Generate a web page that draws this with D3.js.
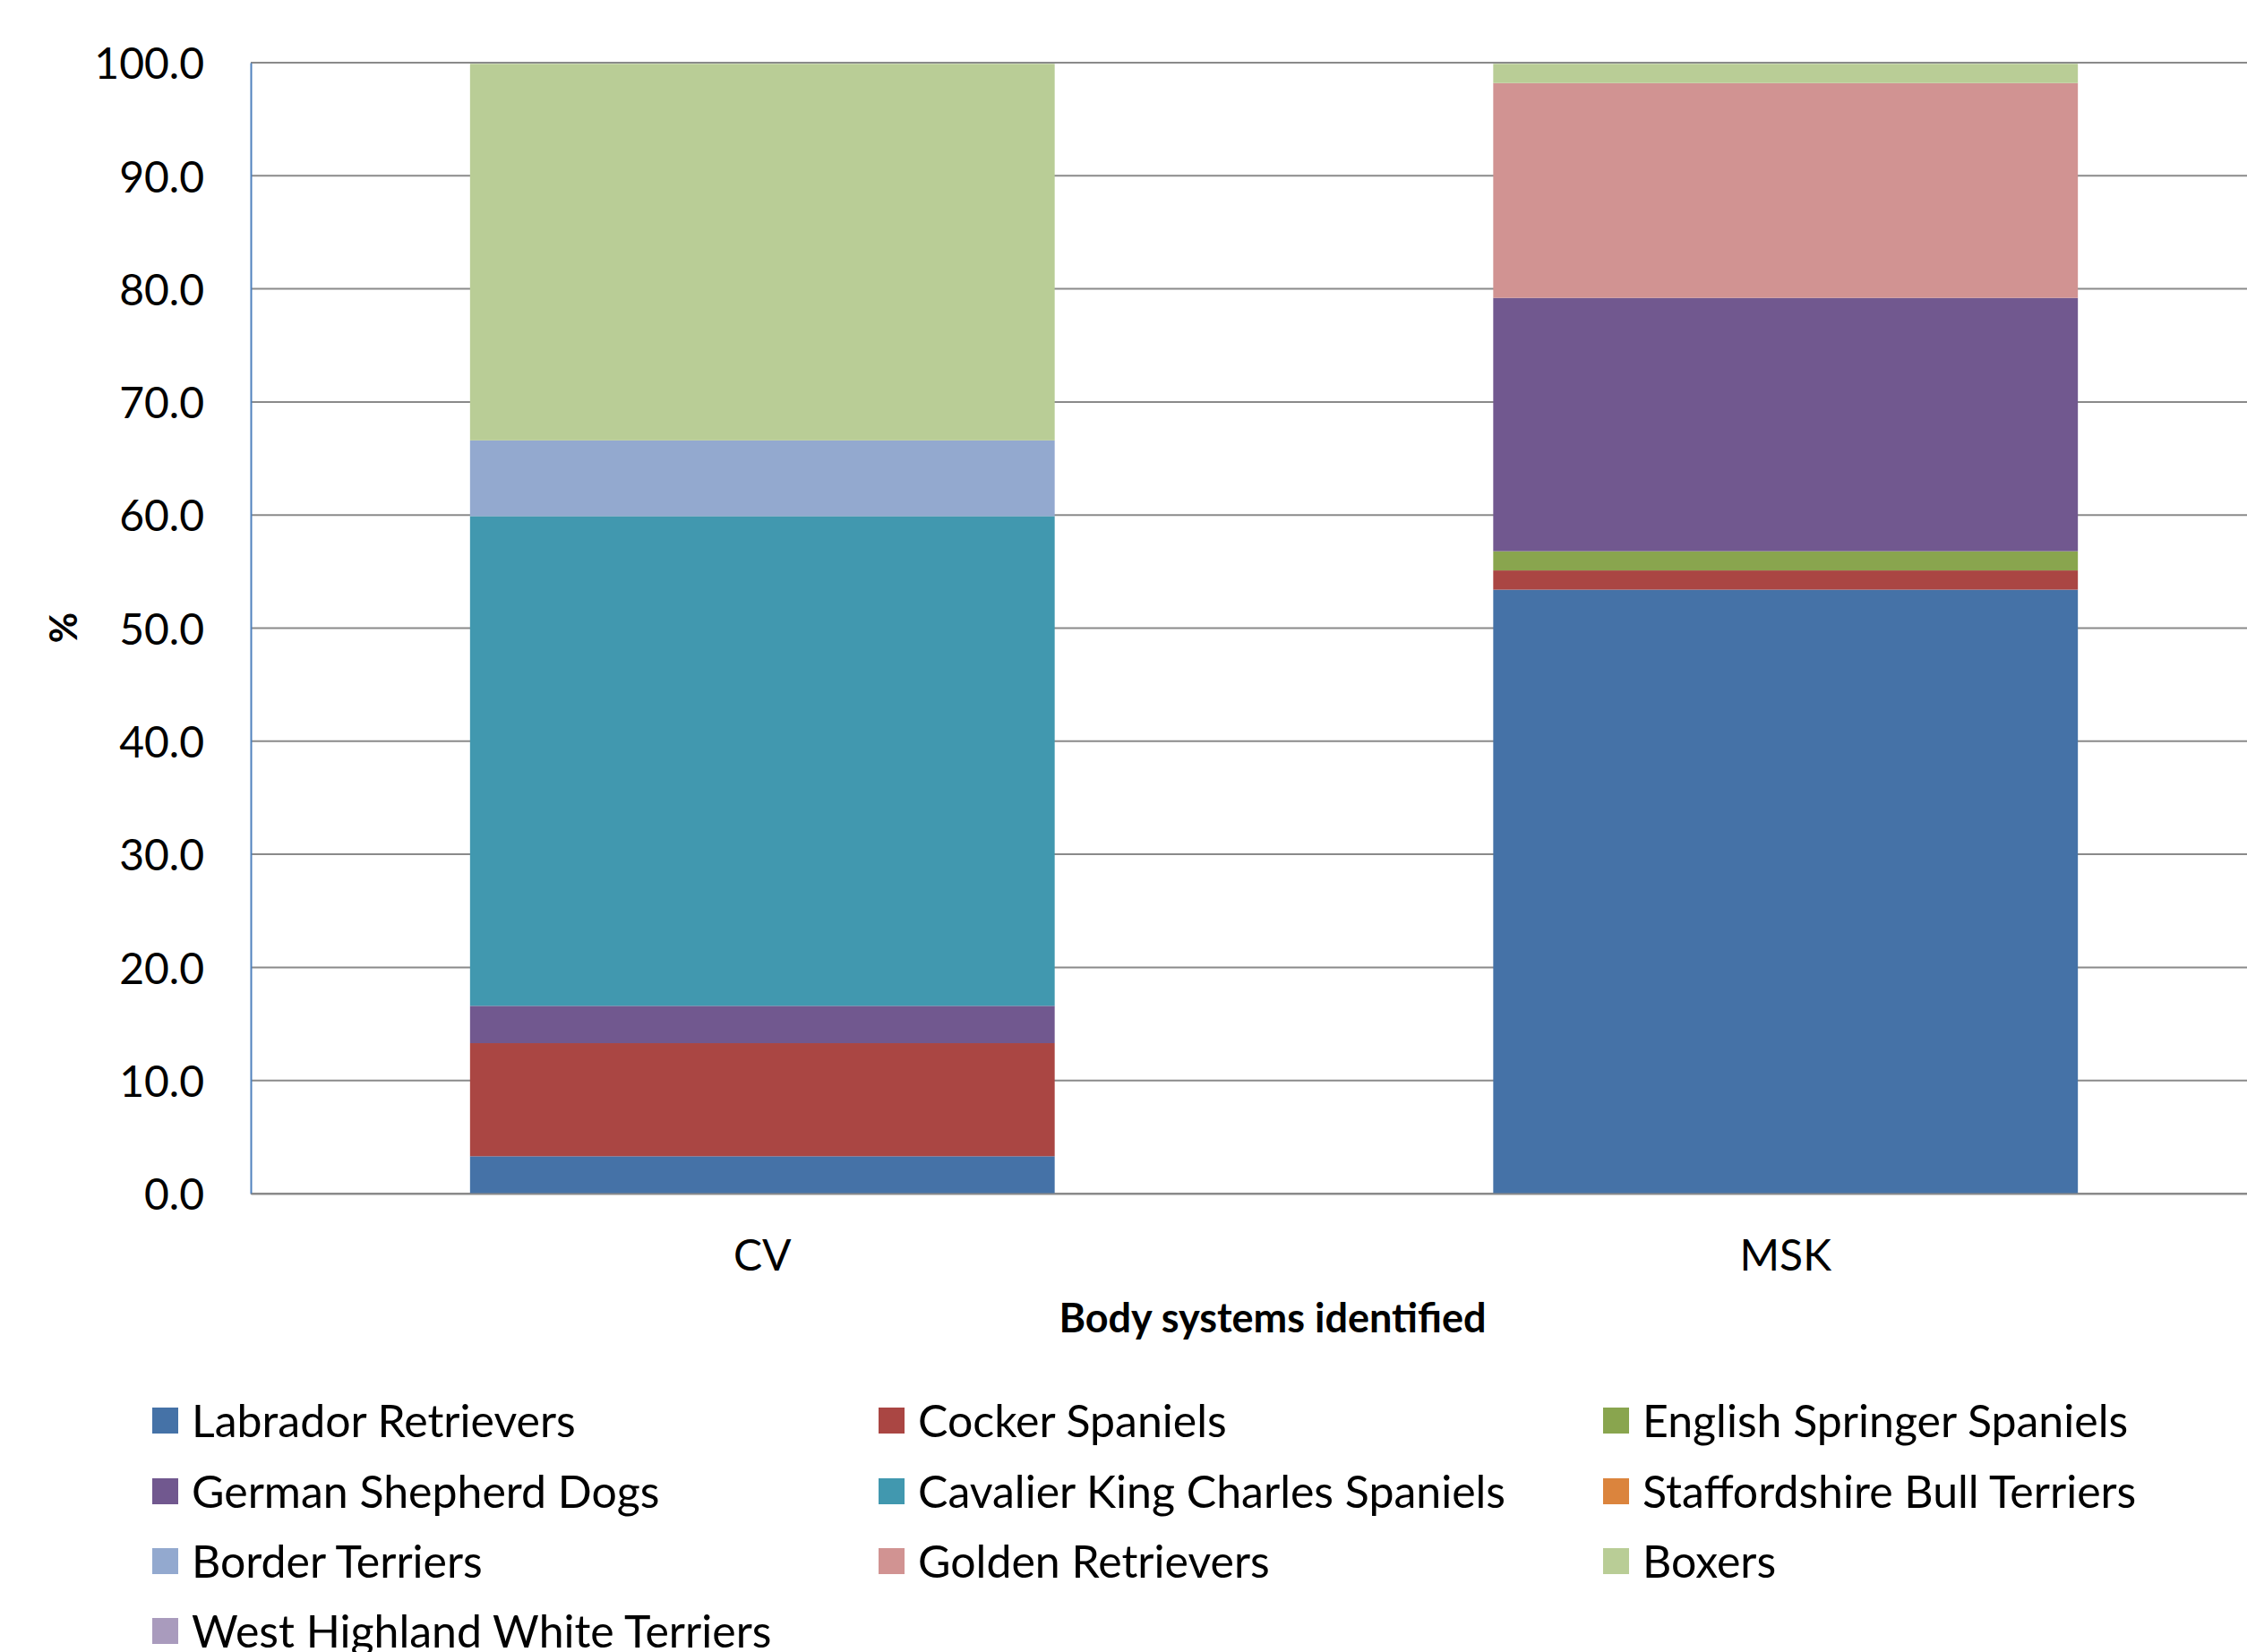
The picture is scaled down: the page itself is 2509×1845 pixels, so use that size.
<!DOCTYPE html>
<html>
<head>
<meta charset="utf-8">
<script src="https://cdn.jsdelivr.net/npm/d3@7"></script>
<style>
  html, body { margin: 0; padding: 0; background: #fff; overflow: hidden; }
  text { font-family: Lato, "Open Sans", sans-serif; fill: #000; }
</style>
</head>
<body>
<svg id="chart" width="2509" height="1845"></svg>
<script>
// values (percent of dogs per body system)
const categories = ["CV", "MSK"];
const breeds = [
    "Labrador Retrievers",
    "Cocker Spaniels",
    "English Springer Spaniels",
    "German Shepherd Dogs",
    "Cavalier King Charles Spaniels",
    "Staffordshire Bull Terriers",
    "Border Terriers",
    "Golden Retrievers",
    "Boxers",
    "West Highland White Terriers"
];
const cvValues = [3.3, 10.0, 0, 3.3, 43.3, 0, 6.7, 0, 33.3, 0];
const mskValues = [53.4, 1.7, 1.7, 22.4, 0, 0, 0, 19.0, 1.7, 0];
const yTicks = [0, 10, 20, 30, 40, 50, 60, 70, 80, 90, 100];
const breedColors = ["#4572A7", "#AA4643", "#89A54E", "#71588F", "#4198AF", "#DB843D", "#93A9CF", "#D19392", "#B9CD96", "#A99BBD"];

const svg = d3.select("#chart");
const plot = { left: 280, top: 70, right: 2565, bottom: 1333 };

// table for the stack layout
const rows = categories.map((cat, i) => {
    let row = { category: cat };
    let vals = i === 0 ? cvValues : mskValues;
    breeds.forEach((b, j) => { row[b] = vals[j]; });
    return row;
});
const series = d3.stack().keys(breeds)(rows);

const x = d3.scaleBand()
    .domain(categories)
    .range([plot.left, plot.right])
    .paddingInner(0.4286)
    .paddingOuter(0.2143);
const y = d3.scaleLinear().domain([0, 100]).range([plot.bottom, plot.top]);
const color = d3.scaleOrdinal().domain(breeds).range(breedColors);

// gridlines
svg.append("g")
    .selectAll("line")
    .data(yTicks)
    .join("line")
    .attr("x1", plot.left).attr("x2", plot.right)
    .attr("y1", d => y(d)).attr("y2", d => y(d))
    .attr("stroke", "#8a8a8a")
    .attr("stroke-width", 2);

// bars
svg.append("g")
    .selectAll("g")
    .data(series)
    .join("g")
    .attr("fill", d => color(d.key))
    .selectAll("rect")
    .data(d => d)
    .join("rect")
    .attr("x", d => x(d.data.category))
    .attr("width", x.bandwidth())
    .attr("y", d => y(d[1]))
    .attr("height", d => y(d[0]) - y(d[1]));

// y axis
const yAxis = d3.axisLeft(y).tickValues(yTicks).tickFormat(d3.format(".1f")).tickSize(0).tickPadding(52);
const yg = svg.append("g").attr("transform", "translate(" + plot.left + ",0)").call(yAxis);
yg.select(".domain").attr("stroke", "#4F81BD").attr("stroke-width", 2);
yg.selectAll("text").attr("font-size", 48).attr("font-family", "Lato, sans-serif").attr("dy", "0.37em");

// x axis
const xAxis = d3.axisBottom(x).tickSize(0).tickPadding(52);
const xg = svg.append("g").attr("transform", "translate(0," + plot.bottom + ")").call(xAxis);
xg.select(".domain").attr("stroke", "#8a8a8a").attr("stroke-width", 2);
xg.selectAll("text").attr("font-size", 48).attr("font-family", "Lato, sans-serif");

// axis titles
svg.append("text")
    .attr("transform", "translate(86,701) rotate(-90)")
    .attr("text-anchor", "middle")
    .attr("font-size", 42)
    .attr("font-weight", "bold")
    .text("%");

svg.append("text")
    .attr("x", 1421).attr("y", 1488)
    .attr("text-anchor", "middle")
    .attr("font-size", 45)
    .attr("font-weight", "bold")
    .text("Body systems identified");

// legend, 3 columns
const legendCols = [170, 981, 1790];
const legendRows = [1587, 1666, 1744, 1822];
const legend = svg.append("g")
    .selectAll("g")
    .data(breeds)
    .join("g")
    .attr("transform", (d, i) => "translate(" + legendCols[i % 3] + "," + legendRows[Math.floor(i / 3)] + ")");
legend.append("rect")
    .attr("x", 0).attr("y", -15)
    .attr("width", 29).attr("height", 29)
    .attr("fill", d => color(d));
legend.append("text")
    .attr("x", 44).attr("y", 0)
    .attr("dy", "0.35em")
    .attr("font-size", 50)
    .text(d => d);
</script>
</body>
</html>
